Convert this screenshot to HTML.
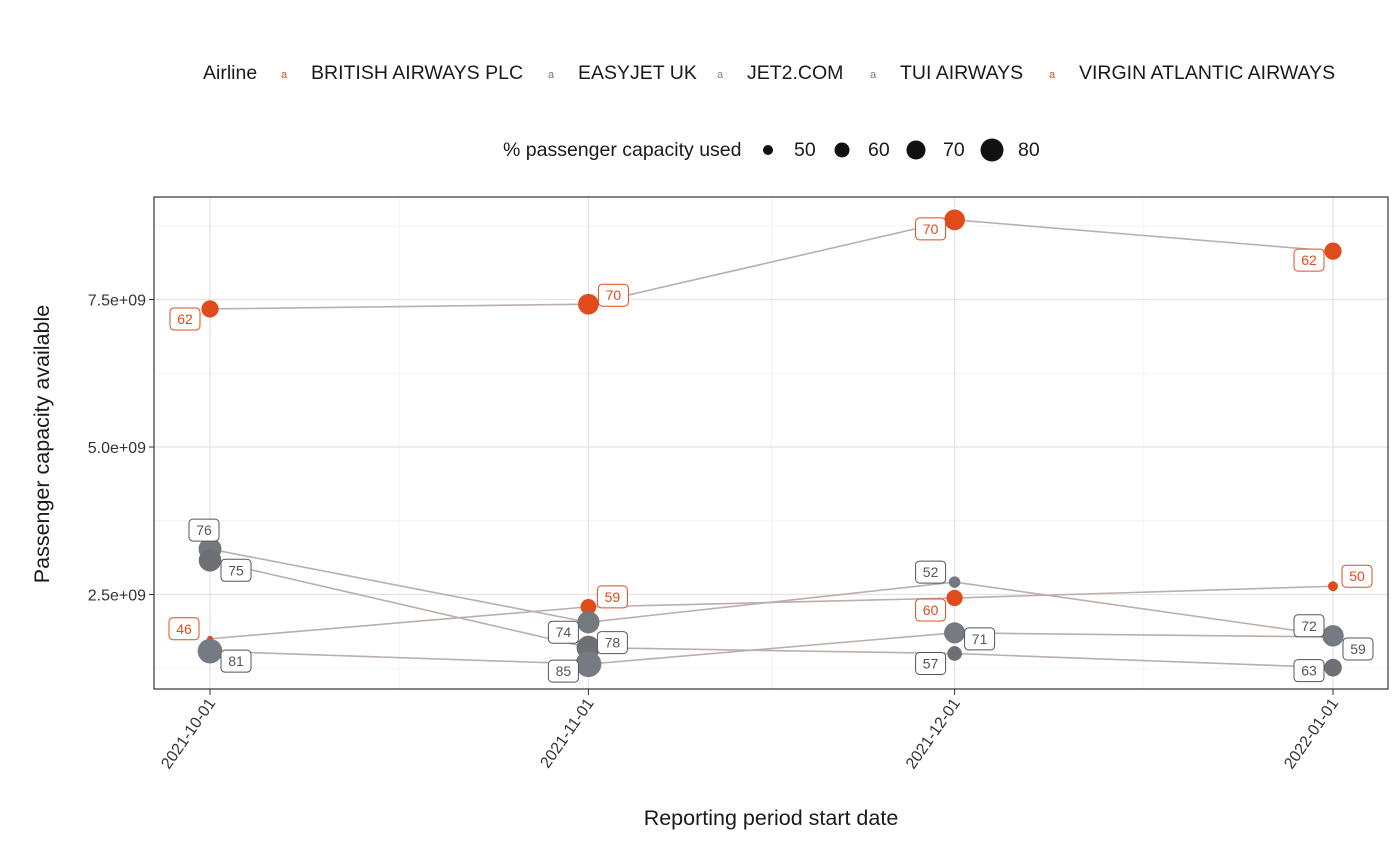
<!DOCTYPE html>
<html><head><meta charset="utf-8">
<style>
body{margin:0;background:#fff;font-family:"Liberation Sans",Arial,sans-serif;}
svg text{font-family:"Liberation Sans",Arial,sans-serif;}
</style></head>
<body>
<svg id="chart" width="1400" height="840" viewBox="0 0 1400 840" xmlns="http://www.w3.org/2000/svg">
<rect width="1400" height="840" fill="#fff"/>
<g font-size="19.5" fill="#1a1a1a">
  <text x="203" y="79">Airline</text>
  <text x="281" y="78" font-size="11" fill="#E04B1B">a</text>
  <text x="311" y="79">BRITISH AIRWAYS PLC</text>
  <text x="548" y="78" font-size="11" fill="#777">a</text>
  <text x="578" y="79">EASYJET UK</text>
  <text x="717" y="78" font-size="11" fill="#8a7a78">a</text>
  <text x="747" y="79">JET2.COM</text>
  <text x="870" y="78" font-size="11" fill="#777">a</text>
  <text x="900" y="79">TUI AIRWAYS</text>
  <text x="1049" y="78" font-size="11" fill="#E04B1B">a</text>
  <text x="1079" y="79">VIRGIN ATLANTIC AIRWAYS</text>
</g>
<g font-size="19.5" fill="#1a1a1a">
  <text x="503" y="156">% passenger capacity used</text>
  <circle cx="768" cy="150" r="5" fill="#111"/>
  <text x="794" y="156">50</text>
  <circle cx="842" cy="150" r="7.5" fill="#111"/>
  <text x="868" y="156">60</text>
  <circle cx="916" cy="150" r="9.5" fill="#111"/>
  <text x="943" y="156">70</text>
  <circle cx="992" cy="150" r="11.5" fill="#111"/>
  <text x="1018" y="156">80</text>
</g>
<g id="grid"></g>
<g id="lines"></g>
<g id="points"></g>
<g id="labels"></g>
<rect x="154" y="197" width="1234" height="492" fill="none" stroke="#333" stroke-width="1.2"/>
<g id="axes"></g>
<text x="0" y="0" transform="translate(49,444) rotate(-90)" text-anchor="middle" font-size="21.5" fill="#1a1a1a">Passenger capacity available</text>
<text x="771" y="825" text-anchor="middle" font-size="21.5" fill="#1a1a1a">Reporting period start date</text>
</svg>
<script>
const dates = ["2021-10-01","2021-11-01","2021-12-01","2022-01-01"];
const airlines = ["BRITISH AIRWAYS PLC","VIRGIN ATLANTIC AIRWAYS","EASYJET UK","JET2.COM","TUI AIRWAYS"];
const colors = ["#E04B1B","#E04B1B","#747980","#6e7075","#767a82"];
const capacityBA = [7.34e9,7.42e9,8.85e9,8.32e9];
const capacityVirgin = [1.75e9,2.29e9,2.44e9,2.64e9];
const capacityEasyjet = [3.27e9,2.03e9,2.71e9,1.80e9];
const capacityJet2 = [3.08e9,1.60e9,1.50e9,1.26e9];
const capacityTui = [1.54e9,1.32e9,1.85e9,1.78e9];
const usedBA = [62,70,70,62];
const usedVirgin = [46,59,60,50];
const usedEasyjet = [76,74,52,72];
const usedJet2 = [75,78,57,63];
const usedTui = [81,85,71,59];
const yTicks = [2.5e9,5.0e9,7.5e9];
const yTickLabels = ["2.5e+09","5.0e+09","7.5e+09"];
const series = [capacityBA,capacityVirgin,capacityEasyjet,capacityJet2,capacityTui];
const used = [usedBA,usedVirgin,usedEasyjet,usedJet2,usedTui];
// label offsets (layout, ggrepel-like)
const labOff = [
 [[-25,10],[25,-9],[-24,9],[-24,9]],
 [[-26,-10],[24,-10],[-24,12],[24,-10]],
 [[-6,-19],[-25,10],[-24,-10],[-24,-10]],
 [[26,10],[24,-5],[-24,10],[-24,3]],
 [[26,10],[-25,7],[25,6],[25,12]]
];
const NS="http://www.w3.org/2000/svg";
const t0 = Date.parse("2021-10-01"), t3 = Date.parse("2022-01-01");
function xS(d){return 210 + (Date.parse(d)-t0)/(t3-t0)*(1333-210);}
function yS(v){return 742 - v/1e9*59;}
function rS(p){return Math.sqrt(Math.max(4, -180 + 4.1*p));}
function mk(tag, attrs, parent){const e=document.createElementNS(NS,tag);for(const k in attrs)e.setAttribute(k,attrs[k]);parent.appendChild(e);return e;}
const grid=document.getElementById('grid'), axes=document.getElementById('axes');
[1.25e9,3.75e9,6.25e9,8.75e9].forEach(v=>{const l=mk('line',{x1:154,x2:1388,y1:yS(v),y2:yS(v),stroke:'#efefef','stroke-width':0.8},grid);});
for(let i=0;i<dates.length-1;i++){const x=(xS(dates[i])+xS(dates[i+1]))/2;const l=mk('line',{x1:x,x2:x,y1:197,y2:689,stroke:'#efefef','stroke-width':0.8},grid);}
yTicks.forEach((v,i)=>{const y=yS(v);
 const l=mk('line',{x1:154,x2:1388,y1:y,y2:y,stroke:'#e4e4e4','stroke-width':1.3},grid);
 mk('line',{x1:149,x2:154,y1:y,y2:y,stroke:'#333'},axes);
 const t=mk('text',{x:146,y:y+6,'text-anchor':'end','font-size':16,fill:'#333'},axes);t.textContent=yTickLabels[i];
 });
dates.forEach(d=>{const x=xS(d);
 const l=mk('line',{x1:x,x2:x,y1:197,y2:689,stroke:'#e4e4e4','stroke-width':1.3},grid);
 mk('line',{x1:x,x2:x,y1:689,y2:695,stroke:'#333'},axes);
 const t=mk('text',{x:0,y:0,'text-anchor':'end','font-size':16,fill:'#333',transform:`translate(${x+6},${703}) rotate(-55)`},axes);t.textContent=d;
 });
const lines=document.getElementById('lines'), pts=document.getElementById('points'), labs=document.getElementById('labels');
series.forEach((s,si)=>{
 const p=mk('polyline',{points:s.map((v,i)=>xS(dates[i])+','+yS(v)).join(' '),fill:'none',stroke:'#bcaeac','stroke-width':1.6},lines);
 
});
series.forEach((s,si)=>{
 s.forEach((v,i)=>{
  const c=mk('circle',{cx:xS(dates[i]),cy:yS(v),r:rS(used[si][i]),fill:colors[si]},pts);
  
 });
});
series.forEach((s,si)=>{
 s.forEach((v,i)=>{
  const cx=xS(dates[i])+labOff[si][i][0], cy=yS(v)+labOff[si][i][1];
  const col = si<2 ? '#E04B1B' : '#555';
  const g=mk('g',{},labs);
  
  mk('rect',{x:cx-15,y:cy-11,width:30,height:22,rx:4,fill:'#fff',stroke:col,'stroke-width':1},g);
  const t=mk('text',{x:cx,y:cy+5,'text-anchor':'middle','font-size':14,fill:col},g);t.textContent=used[si][i];
 });
});
</script>
</body></html>
